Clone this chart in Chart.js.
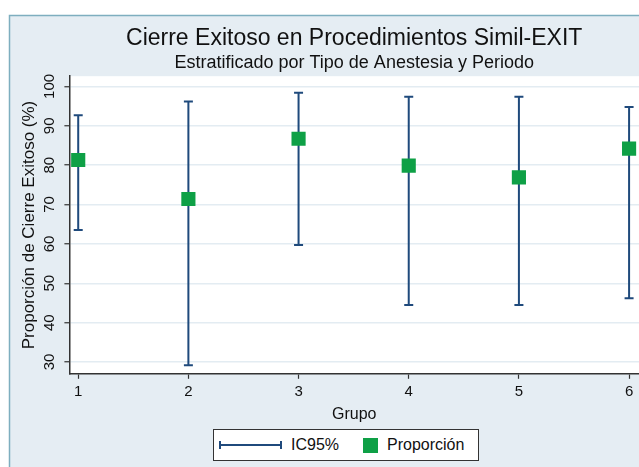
<!DOCTYPE html>
<html>
<head>
<meta charset="utf-8">
<script src="https://cdn.jsdelivr.net/npm/chart.js@4/dist/chart.umd.min.js"></script>
<style>
  body { margin: 0; background: #fff; }
  #wrap { position: relative; width: 639px; height: 467px; overflow: hidden; font-family: "Liberation Sans", Arial, sans-serif; }
  #chart { position: absolute; left: 0; top: 0; }
  #legend {
    position: absolute; left: 213px; top: 429px; width: 264px; height: 30px;
    border: 1px solid #333; background: #fff; box-sizing: content-box;
    display: flex; align-items: center; font-size: 16px; color: #111;
  }
  .ci-sym { position: relative; display: inline-block; width: 63px; height: 2px; background: #1f4a7c; margin-left: 5px; }
  .ci-sym::before, .ci-sym::after { content: ""; position: absolute; top: -3px; width: 2px; height: 8px; background: #1f4a7c; }
  .ci-sym::before { left: 0; }
  .ci-sym::after { right: 0; }
  .sq { display: inline-block; width: 15px; height: 15px; background: #0ea046; margin-left: 24px; }
  .lbl { margin-left: 9px; }
</style>
</head>
<body>
<div id="wrap">
  <canvas id="chart" width="639" height="467"></canvas>
  <div id="legend">
    <span class="ci-sym"></span><span class="lbl">IC95%</span>
    <span class="sq"></span><span class="lbl">Proporción</span>
  </div>
</div>
<script>
const grupos = [1, 2, 3, 4, 5, 6];
const proporcion = [81.3, 71.4, 86.7, 79.9, 76.9, 84.2];
const icInferior = [63.5, 29.2, 59.7, 44.5, 44.5, 46.2];
const icSuperior = [92.7, 96.2, 98.4, 97.4, 97.4, 94.8];
const yTicks = [30, 40, 50, 60, 70, 80, 90, 100];

const navy = '#1f4a7c';
const verde = '#0ea046';

// fondo del gráfico y marco
const fondoPlugin = {
    id: 'fondo',
    beforeDraw(chart) {
        const ctx = chart.ctx;
        const a = chart.chartArea;
        ctx.save();
        ctx.fillStyle = '#fff';
        ctx.fillRect(0, 0, chart.width, chart.height);
        ctx.fillStyle = '#e5edf3';
        ctx.fillRect(9, 15, chart.width - 9, chart.height - 15);
        ctx.strokeStyle = '#7eaebf';
        ctx.lineWidth = 1.5;
        ctx.beginPath();
        ctx.moveTo(9.5, chart.height);
        ctx.lineTo(9.5, 15.5);
        ctx.lineTo(chart.width, 15.5);
        ctx.stroke();
        ctx.fillStyle = '#fff';
        ctx.fillRect(a.left, a.top, a.right - a.left, a.bottom - a.top);
        ctx.restore();
    }
};

// barras de error (IC95%)
const icPlugin = {
    id: 'ic95',
    beforeDatasetsDraw(chart) {
        const ctx = chart.ctx;
        const x = chart.scales.x;
        const y = chart.scales.y;
        ctx.save();
        ctx.strokeStyle = navy;
        ctx.lineWidth = 2;
        grupos.forEach((g, i) => {
            const px = x.getPixelForValue(g);
            const y1 = y.getPixelForValue(icInferior[i]);
            const y2 = y.getPixelForValue(icSuperior[i]);
            ctx.beginPath();
            ctx.moveTo(px, y1);
            ctx.lineTo(px, y2);
            ctx.moveTo(px - 4.5, y1);
            ctx.lineTo(px + 4.5, y1);
            ctx.moveTo(px - 4.5, y2);
            ctx.lineTo(px + 4.5, y2);
            ctx.stroke();
        });
        ctx.restore();
    }
};

const fuente = "'Liberation Sans', Arial, sans-serif";

new Chart(document.getElementById('chart'), {
    type: 'scatter',
    data: {
        datasets: [{
            label: 'Proporción',
            data: grupos.map((g, i) => ({ x: g, y: proporcion[i] })),
            pointStyle: 'rect',
            pointRadius: 10,
            pointHoverRadius: 10,
            backgroundColor: verde,
            borderColor: verde,
            borderWidth: 0
        }]
    },
    options: {
        responsive: false,
        animation: false,
        layout: { autoPadding: false, padding: { left: 19, right: 0, top: 0, bottom: 39 } },
        plugins: {
            legend: { display: false },
            tooltip: { enabled: false },
            title: {
                display: true,
                fullSize: false,
                text: 'Cierre Exitoso en Procedimientos Simil-EXIT',
                color: '#111',
                font: { family: fuente, size: 23, weight: 'normal' },
                padding: { top: 25, bottom: 0 }
            },
            subtitle: {
                display: true,
                fullSize: false,
                text: 'Estratificado por Tipo de Anestesia y Periodo',
                color: '#111',
                font: { family: fuente, size: 18, weight: 'normal' },
                padding: { top: 0, bottom: 2 }
            }
        },
        scales: {
            x: {
                type: 'linear',
                min: 0.92,
                max: 6.09,
                afterBuildTicks: axis => { axis.ticks = grupos.map(v => ({ value: v })); },
                grid: { drawOnChartArea: false, tickLength: 5, tickColor: '#333', tickWidth: 1.2 },
                border: { color: '#333', width: 1.5 },
                ticks: { color: '#111', font: { family: fuente, size: 15 }, padding: 4 },
                title: { display: true, text: 'Grupo', color: '#111', font: { family: fuente, size: 16 }, padding: { top: 0, bottom: 4 } }
            },
            y: {
                min: 27,
                max: 102.6,
                afterBuildTicks: axis => { axis.ticks = yTicks.map(v => ({ value: v })); },
                grid: { color: '#e3ecf2', lineWidth: 1.5, tickLength: 5, tickColor: '#333', tickWidth: 1.2 },
                border: { color: '#333', width: 1.5 },
                ticks: { color: '#111', font: { family: fuente, size: 15 }, padding: 2.5, minRotation: 90, maxRotation: 90, crossAlign: 'center' },
                title: { display: true, text: 'Proporción de Cierre Exitoso (%)', color: '#111', font: { family: fuente, size: 17 }, padding: { top: 0, bottom: 2 } }
            }
        }
    },
    plugins: [fondoPlugin, icPlugin]
});
</script>
</body>
</html>
